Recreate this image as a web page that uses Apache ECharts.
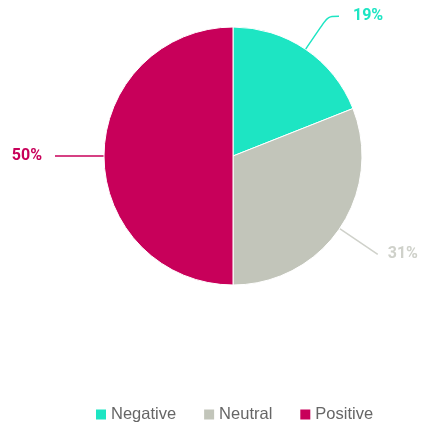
<!DOCTYPE html>
<html><head><meta charset="utf-8">
<script src="https://cdn.jsdelivr.net/npm/echarts@6/dist/echarts.min.js"></script>
<style>html,body{margin:0;padding:0;background:#fff}#c{width:422px;height:424px}</style>
</head><body><div id="c"></div>
<script>
const categories = ['Negative', 'Neutral', 'Positive'];
const values = [19, 31, 50];
const colors = ['#1de5c3', '#c2c5ba', '#c8005a'];
const labelColors = ['#1de5c3', '#cfd1ca', '#c8005a'];
const lineHeads = [40, 46, 40];
const lineTails = [11, 0, 9];
const labelGaps = [14, 10, 13];

const chart = echarts.init(document.getElementById('c'));
chart.setOption({
  animation: false,
  legend: {
    top: 401,
    left: 89,
    icon: 'rect',
    itemWidth: 12,
    itemHeight: 12,
    itemGap: 26,
    textStyle: { fontFamily: 'Liberation Sans, Arial, sans-serif', fontSize: 16.5, color: '#666', padding: [0, 0, 0, -1] },
    data: categories
  },
  series: [{
    type: 'pie',
    center: [233, 156],
    radius: 129,
    startAngle: 90,
    clockwise: true,
    itemStyle: { borderColor: '#fff', borderWidth: 1 },
    label: {
      formatter: '{d}%',
      fontFamily: 'Roboto, sans-serif',
      fontWeight: 'bold',
      fontSize: 16,
      overflow: 'none'
    },
    labelLine: { smooth: 0.3, lineStyle: { width: 1.5 } },
    data: categories.map((c, i) => ({
      name: c, value: values[i],
      itemStyle: { color: colors[i] },
      label: { color: labelColors[i], distanceToLabelLine: labelGaps[i] },
      labelLine: { length: lineHeads[i], length2: lineTails[i], lineStyle: { color: labelColors[i] } }
    }))
  }]
});
</script></body></html>
